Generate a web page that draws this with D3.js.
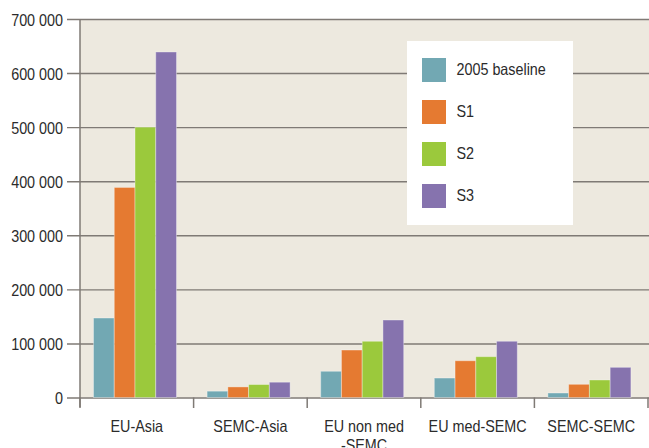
<!DOCTYPE html>
<html>
<head>
<script src="https://cdn.jsdelivr.net/npm/d3@7/dist/d3.min.js"></script>
<style>
    body{ margin:0; background:#fff; }
    text{ font-family:"Liberation Sans", Arial, Helvetica, sans-serif; fill:#2b2b2b; }
</style>
</head>
<body>
<div id="chart"></div>
<script>
    var categories = [["EU-Asia"], ["SEMC-Asia"], ["EU non med", "-SEMC"], ["EU med-SEMC"], ["SEMC-SEMC"]]
    var series = ["2005 baseline", "S1", "S2", "S3"]
    var colors = ["#72a8b3", "#e57a31", "#9bc93c", "#8673ae"]
    var values = [
        [147000, 11700, 48500, 36000, 8300],    // 2005 baseline
        [388500, 19600, 87800, 68000, 24400],   // S1
        [500000, 24000, 104000, 75500, 32400],  // S2
        [639000, 28300, 143300, 104000, 55800]  // S3
    ]
    var yTicks = [0, 100000, 200000, 300000, 400000, 500000, 600000, 700000]

    var W = 649, H = 448
    // note: "top" is taken by window.top, so plot edges get their own names
    var plotLeft = 80, plotRight = 648, plotTop = 19, plotBottom = 397.5
    var squeeze = 0.87 // glyphs in the picture are narrow

    var svg = d3.select("#chart").append("svg")
        .attr("width", W).attr("height", H)

    var names = categories.map(function(c){ return c.join(" ") })
    var x = d3.scaleBand().domain(names).range([plotLeft, plotRight])
    var x1 = d3.scaleBand().domain(series).range([13.5, 96.5])
    var y = d3.scaleLinear().domain([0, 700000]).range([plotBottom, plotTop])

    var fmt = d3.formatLocale({decimal:".", thousands:" ", grouping:[3], currency:["",""]}).format(",")

    function label(g, tx, ty, str, anchor){
        return g.append("text")
            .attr("transform", "translate(" + tx + "," + ty + ") scale(" + squeeze + ",1)")
            .attr("text-anchor", anchor || "start")
            .style("font-size", "16.5px")
            .text(str)
    }

    // plot background
    svg.append("rect")
        .attr("x", plotLeft).attr("y", plotTop)
        .attr("width", W - plotLeft).attr("height", plotBottom - plotTop)
        .attr("fill", "#ede9df")

    // gridlines + little ticks on the left
    var grid = svg.append("g")
        .attr("transform", "translate(67,0)")
        .call(d3.axisLeft(y).tickValues(yTicks).tickSize(-(W - 67)).tickFormat(""))
    grid.select(".domain").remove()
    grid.selectAll("line").attr("stroke", "#7f7a75").attr("stroke-width", 1.4)

    yTicks.forEach(function(t){
        label(svg, 63, y(t) + 6.5, fmt(t), "end")
    })

    // bars
    var groups = svg.append("g").selectAll("g")
        .data(names)
        .enter().append("g")
        .attr("transform", function(d){ return "translate(" + x(d) + ",0)" })

    groups.selectAll("rect")
        .data(function(d, ci){ return series.map(function(s, si){ return {s:s, si:si, v:values[si][ci]} }) })
        .enter().append("rect")
        .attr("x", function(d){ return x1(d.s) })
        .attr("width", x1.bandwidth())
        .attr("y", function(d){ return y(d.v) })
        .attr("height", function(d){ return plotBottom - y(d.v) })
        .attr("fill", function(d){ return colors[d.si] })
        .attr("stroke", "rgba(255,255,255,0.35)")
        .attr("stroke-width", 1)

    // vertical axis line
    svg.append("line")
        .attr("x1", plotLeft).attr("x2", plotLeft)
        .attr("y1", plotTop).attr("y2", 407)
        .attr("stroke", "#7f7a75").attr("stroke-width", 1.5)

    // category boundary ticks
    var bounds = names.map(function(n){ return x(n) }).concat([x.range()[1]])
    svg.append("g").selectAll("line")
        .data(bounds)
        .enter().append("line")
        .attr("x1", function(d){ return d }).attr("x2", function(d){ return d })
        .attr("y1", plotBottom).attr("y2", 408)
        .attr("stroke", "#7f7a75").attr("stroke-width", 1.5)

    // category labels
    categories.forEach(function(c, i){
        var cx = x(names[i]) + x.bandwidth() / 2
        c.forEach(function(line, j){
            label(svg, cx, 431.5 + j * 19.5, line, "middle")
        })
    })

    // legend
    var lg = svg.append("g")
    lg.append("rect")
        .attr("x", 407).attr("y", 41)
        .attr("width", 166).attr("height", 184)
        .attr("fill", "#fff")
    series.forEach(function(s, i){
        lg.append("rect")
            .attr("x", 422).attr("y", 58 + i * 42)
            .attr("width", 24).attr("height", 24)
            .attr("fill", colors[i])
        label(lg, 456.5, 74.5 + i * 42, s)
    })
</script>
</body>
</html>
